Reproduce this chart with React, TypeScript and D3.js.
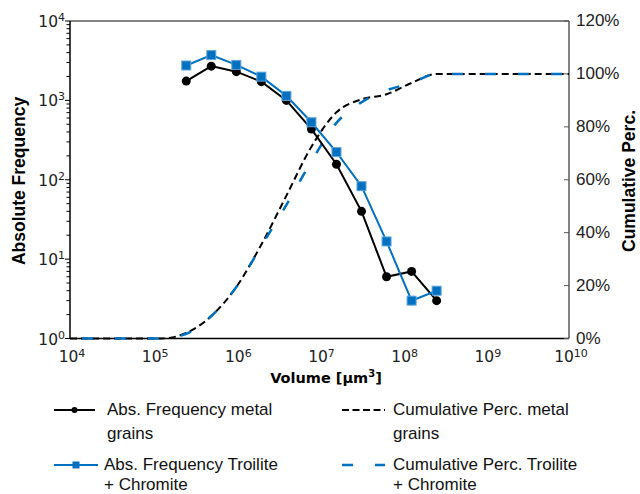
// Grain volume distribution: absolute frequency (log, left) + cumulative percentage (right)

import { useEffect, useRef } from "react";
import * as d3 from "d3";

// bin centres [µm³] for the absolute frequencies
const binVolumes = [2.5e5, 5e5, 1e6, 2e6, 4e6, 8e6, 1.6e7, 3.2e7, 6.4e7, 1.28e8, 2.56e8];
const freqMetal = [1750, 2700, 2300, 1720, 1000, 435, 157, 40, 6, 7, 3];
const freqTroilite = [2750, 3720, 2800, 1990, 1140, 530, 223, 83, 16.7, 3, 4];

// cumulative curves run over the whole axis
const cumVolumes = [1e4, 1.25e5, 2.5e5, 5e5, 1e6, 2e6, 4e6, 8e6, 1.6e7, 3.2e7, 6.4e7, 1.28e8, 2.56e8, 1e10];
const cumMetal = [0, 0, 2.1, 8.5, 19.5, 35.5, 54, 72.5, 85.5, 90.4, 92.3, 96.6, 100, 100];
const cumTroilite = [0, 0, 1.8, 8.5, 19.5, 35, 50.5, 67, 81.5, 89.3, 93.8, 96.6, 100, 100];

const xExponents = [4, 5, 6, 7, 8, 9, 10];
const yExponents = [0, 1, 2, 3, 4];
const pctTicks = [0, 20, 40, 60, 80, 100, 120];

const legendItems = [
  { lines: ["Abs. Frequency metal", "grains"], kind: "absMetal" },
  { lines: ["Cumulative Perc. metal", "grains"], kind: "cumMetal" },
  { lines: ["Abs. Frequency Troilite", "+ Chromite"], kind: "absTroilite" },
  { lines: ["Cumulative Perc. Troilite", "+ Chromite"], kind: "cumTroilite" },
];

const BLUE = "#0070c0";
const W = 640;
const H = 494;

export default function App() {
  const svgRef = useRef<SVGSVGElement>(null);

  useEffect(() => {
    if (!svgRef.current) return;
    const svg = d3.select(svgRef.current);
    svg.selectAll("*").remove();

    const left = 70, right = 569, top = 21, bottom = 338.5;

    const x = d3.scaleLog().domain([1e4, 1e10]).range([left, right]);
    const yAbs = d3.scaleLog().domain([1, 1e4]).range([bottom, top]);
    const yPct = d3.scaleLinear().domain([0, 120]).range([bottom, top]);

    const tickFont = "'DejaVu Sans', Verdana, sans-serif";
    const arial = "'Liberation Sans', Arial, sans-serif";

    // frame
    svg.append("line").attr("x1", left).attr("x2", right).attr("y1", top).attr("y2", top)
      .attr("stroke", "#595959").attr("stroke-width", 1.5);
    svg.append("line").attr("x1", right).attr("x2", right).attr("y1", top).attr("y2", bottom)
      .attr("stroke", "#595959").attr("stroke-width", 1.5);
    svg.append("line").attr("x1", left).attr("x2", left).attr("y1", top).attr("y2", bottom)
      .attr("stroke", "#000").attr("stroke-width", 1.5);
    svg.append("line").attr("x1", left).attr("x2", right).attr("y1", bottom).attr("y2", bottom)
      .attr("stroke", "#000").attr("stroke-width", 1.5);

    // left minor/major ticks
    const minor: number[] = [];
    for (let e = 0; e < 4; e++) for (let m = 1; m < 10; m++) minor.push(m * Math.pow(10, e));
    minor.push(1e4);
    svg.append("g").selectAll("line").data(minor).enter().append("line")
      .attr("x1", (d) => (Math.log10(d) % 1 === 0 ? left - 5 : left - 3.5)).attr("x2", left)
      .attr("y1", (d) => yAbs(d)).attr("y2", (d) => yAbs(d))
      .attr("stroke", "#000").attr("stroke-width", 1);

    // left tick labels
    const yl = svg.append("g").selectAll("text").data(yExponents).enter().append("text")
      .attr("x", 65).attr("y", (d) => yAbs(Math.pow(10, d)) + 6)
      .attr("text-anchor", "end").attr("fill", "#222")
      .style("font-family", tickFont).style("font-size", "15.5px");
    yl.append("tspan").text("10");
    yl.append("tspan").attr("dy", -6).style("font-size", "11px").text((d) => String(d));

    // x tick labels
    const xl = svg.append("g").selectAll("text").data(xExponents).enter().append("text")
      .attr("x", (d) => x(Math.pow(10, d)) + 2).attr("y", 362)
      .attr("text-anchor", "middle").attr("fill", "#222")
      .style("font-family", tickFont).style("font-size", "15.5px");
    xl.append("tspan").text("10");
    xl.append("tspan").attr("dy", -5).style("font-size", "11px").text((d) => String(d));

    // right ticks + labels
    svg.append("g").selectAll("line").data(pctTicks).enter().append("line")
      .attr("x1", right - 5).attr("x2", right)
      .attr("y1", (d) => yPct(d)).attr("y2", (d) => yPct(d))
      .attr("stroke", "#595959").attr("stroke-width", 1);
    svg.append("g").selectAll("text").data(pctTicks).enter().append("text")
      .attr("x", 576).attr("y", (d) => yPct(d)).attr("dy", "0.3em")
      .attr("fill", "#222").style("font-family", arial).style("font-size", "17px")
      .text((d) => `${d}%`);

    // axis titles
    svg.append("text").attr("transform", "translate(25,181) rotate(-90)")
      .attr("text-anchor", "middle").attr("fill", "#000")
      .style("font-family", arial).style("font-weight", "bold").style("font-size", "17.5px")
      .text("Absolute Frequency");
    svg.append("text").attr("transform", "translate(635,181) rotate(-90)")
      .attr("text-anchor", "middle").attr("fill", "#000")
      .style("font-family", arial).style("font-weight", "bold").style("font-size", "17.5px")
      .text("Cumulative Perc.");
    const xt = svg.append("text").attr("x", 326).attr("y", 383)
      .attr("text-anchor", "middle").attr("fill", "#000")
      .style("font-family", tickFont).style("font-weight", "bold").style("font-size", "14.5px");
    xt.append("tspan").text("Volume [µm");
    xt.append("tspan").attr("dy", -6).style("font-size", "10px").text("3");
    xt.append("tspan").attr("dy", 6).text("]");

    // cumulative curves
    const cumLine = d3.line<[number, number]>()
      .x((d) => x(d[0])).y((d) => yPct(d[1]))
      .curve(d3.curveMonotoneX);
    const cm = cumVolumes.map((v, i) => [v, cumMetal[i]] as [number, number]);
    const ct = cumVolumes.map((v, i) => [v, cumTroilite[i]] as [number, number]);

    svg.append("path").attr("d", cumLine(cm) || "")
      .attr("fill", "none").attr("stroke", "#000").attr("stroke-width", 2)
      .attr("stroke-dasharray", "7,4");
    svg.append("path").attr("d", cumLine(ct) || "")
      .attr("fill", "none").attr("stroke", BLUE).attr("stroke-width", 2.5)
      .attr("stroke-dasharray", "11,22").attr("stroke-dashoffset", -12);

    // absolute frequency lines
    const absLine = d3.line<[number, number]>().x((d) => x(d[0])).y((d) => yAbs(d[1]));
    const am = binVolumes.map((v, i) => [v, freqMetal[i]] as [number, number]);
    const at = binVolumes.map((v, i) => [v, freqTroilite[i]] as [number, number]);

    svg.append("path").attr("d", absLine(am) || "")
      .attr("fill", "none").attr("stroke", "#000").attr("stroke-width", 2);
    svg.append("g").selectAll("circle").data(am).enter().append("circle")
      .attr("cx", (d) => x(d[0])).attr("cy", (d) => yAbs(d[1])).attr("r", 4.5)
      .attr("fill", "#000");

    svg.append("path").attr("d", absLine(at) || "")
      .attr("fill", "none").attr("stroke", BLUE).attr("stroke-width", 2);
    svg.append("g").selectAll("rect").data(at).enter().append("rect")
      .attr("x", (d) => x(d[0]) - 4.5).attr("y", (d) => yAbs(d[1]) - 4.5)
      .attr("width", 9).attr("height", 9)
      .attr("fill", BLUE).attr("stroke", "#5fa3dc").attr("stroke-width", 1);

    // legend
    const legendPos = [
      { lx: 54, lw: 41, tx: 107, y: 410, b: [415, 439] },
      { lx: 342, lw: 43, tx: 393, y: 410, b: [415, 439] },
      { lx: 54, lw: 44, tx: 104, y: 465, b: [470, 490] },
      { lx: 342, lw: 43, tx: 393, y: 465, b: [470, 490] },
    ];
    legendItems.forEach((item, i) => {
      const p = legendPos[i];
      const g = svg.append("g");
      const isBlue = item.kind.endsWith("Troilite");
      const col = isBlue ? BLUE : "#000";
      const ln = g.append("line").attr("x1", p.lx).attr("x2", p.lx + p.lw)
        .attr("y1", p.y).attr("y2", p.y).attr("stroke", col)
        .attr("stroke-width", item.kind.startsWith("cum") && isBlue ? 2.5 : 2);
      if (item.kind === "cumMetal") ln.attr("stroke-dasharray", "7,3.5");
      if (item.kind === "cumTroilite") ln.attr("stroke-dasharray", "11,22");
      const mx = p.lx + p.lw / 2;
      if (item.kind === "absMetal") {
        g.append("circle").attr("cx", mx).attr("cy", p.y).attr("r", 3).attr("fill", "#000");
      }
      if (item.kind === "absTroilite") {
        g.append("rect").attr("x", mx - 3.5).attr("y", p.y - 3.5).attr("width", 7).attr("height", 7)
          .attr("fill", BLUE);
      }
      item.lines.forEach((t, j) => {
        g.append("text").attr("x", p.tx).attr("y", p.b[j]).attr("fill", "#111")
          .style("font-family", arial).style("font-size", "17px").text(t);
      });
    });
  }, []);

  return (
    <svg
      ref={svgRef}
      width={W}
      height={H}
      style={{ position: "absolute", left: 0, top: 0, background: "#fff" }}
    />
  );
}
